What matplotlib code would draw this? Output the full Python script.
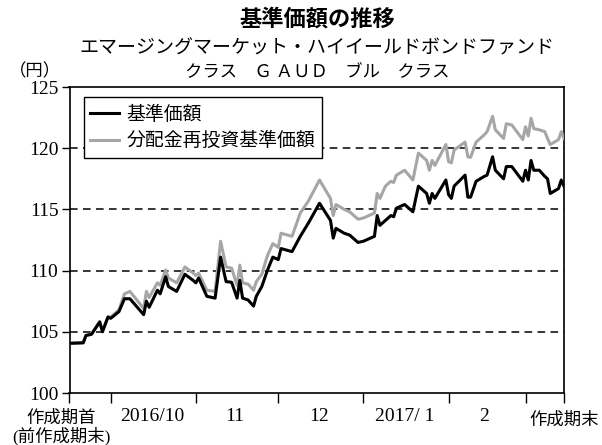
import numpy as np
import matplotlib
matplotlib.use('Agg')
import matplotlib.pyplot as plt
import matplotlib.transforms as mtransforms
import pandas as pd

plt.rcParams['font.family'] = ['Noto Sans CJK JP', 'DejaVu Sans']

# period start / end of the report
period_start = '2016-09-16'
period_end = '2017-03-15'

dates = [
    '2016-09-16', '2016-09-21', '2016-09-22', '2016-09-24', '2016-09-27', '2016-09-28',
    '2016-09-30', '2016-10-01', '2016-10-04', '2016-10-06', '2016-10-08', '2016-10-13',
    '2016-10-14', '2016-10-15', '2016-10-18', '2016-10-19', '2016-10-21', '2016-10-22',
    '2016-10-25', '2016-10-28', '2016-10-31', '2016-11-01', '2016-11-02', '2016-11-05',
    '2016-11-08', '2016-11-10', '2016-11-12', '2016-11-14', '2016-11-16', '2016-11-17',
    '2016-11-18', '2016-11-20', '2016-11-22', '2016-11-23', '2016-11-25', '2016-11-27',
    '2016-11-29', '2016-12-01', '2016-12-02', '2016-12-06', '2016-12-09', '2016-12-12',
    '2016-12-16', '2016-12-20', '2016-12-21', '2016-12-22', '2016-12-25', '2016-12-27',
    '2016-12-30', '2017-01-01', '2017-01-05', '2017-01-06', '2017-01-07', '2017-01-09',
    '2017-01-11', '2017-01-12', '2017-01-13', '2017-01-16', '2017-01-19', '2017-01-21',
    '2017-01-24', '2017-01-25', '2017-01-26', '2017-01-27', '2017-01-31', '2017-02-01',
    '2017-02-02', '2017-02-03', '2017-02-07', '2017-02-08', '2017-02-09', '2017-02-11',
    '2017-02-14', '2017-02-15', '2017-02-17', '2017-02-18', '2017-02-21', '2017-02-22',
    '2017-02-24', '2017-02-28', '2017-03-01', '2017-03-02', '2017-03-03', '2017-03-04',
    '2017-03-06', '2017-03-08', '2017-03-09', '2017-03-10', '2017-03-13', '2017-03-14',
    '2017-03-15',
]

nav = [
    104.06, 104.1, 104.7, 104.8, 105.8, 105.0,
    106.2, 106.1, 106.65, 107.7, 107.7, 106.4,
    107.5, 107.0, 108.4, 108.1, 109.5, 108.7,
    108.3, 109.7, 109.2, 109.0, 109.4, 107.9,
    107.75, 111.1, 109.1, 109.05, 107.75, 109.2,
    107.75, 107.6, 107.1, 107.9, 108.7, 110.0,
    111.1, 110.9, 111.8, 111.55, 112.8, 113.9,
    115.5, 114.1, 112.65, 113.45, 113.05, 112.9,
    112.3, 112.4, 112.8, 114.5, 113.7, 114.1,
    114.5, 114.4, 115.1, 115.4, 114.8, 116.9,
    116.3, 115.5, 116.3, 115.9, 117.4, 116.2,
    115.9, 116.9, 117.8, 116.0, 116.0, 117.3,
    117.7, 117.8, 119.3, 118.2, 117.5, 118.5,
    118.5, 117.3, 118.2, 117.4, 119.0, 118.2,
    118.2, 117.7, 117.5, 116.3, 116.7, 117.4,
    116.9,
]

nav_reinvested = [
    104.06, 104.1, 104.7, 104.8, 105.85, 105.05,
    106.25, 106.2, 106.8, 108.1, 108.3, 106.9,
    108.3, 107.8, 109.0, 108.8, 110.05, 109.4,
    109.0, 110.3, 109.8, 109.6, 109.8, 108.4,
    108.3, 112.4, 110.3, 110.2, 108.8, 110.45,
    109.0, 108.9, 108.4, 109.1, 109.7, 111.2,
    112.2, 111.9, 113.05, 112.8, 114.7, 115.7,
    117.4, 115.9, 114.5, 115.4, 115.0, 114.8,
    114.2, 114.3, 114.7, 116.3, 115.9, 116.9,
    117.3, 117.2, 117.8, 118.2, 117.4, 119.6,
    119.0, 118.2, 119.0, 118.6, 120.3, 118.9,
    118.8, 119.85, 120.5, 119.3, 119.25, 120.5,
    121.1, 121.35, 122.6, 121.5, 120.8, 122.0,
    121.9, 120.7, 121.75, 121.0, 122.45, 121.6,
    121.5, 121.35, 120.8, 120.3, 120.7, 121.35,
    120.8,
]

month_ticks = ['2016-10-01', '2016-11-01', '2016-12-01', '2017-01-01', '2017-02-01', '2017-03-01']
month_label_pos = ['2016-10-16', '2016-11-15', '2016-12-16', '2017-01-16', '2017-02-14']
month_labels = ['2016/10', '11', '12', '2017/ 1', '2']

x = pd.to_datetime(dates)

fig = plt.figure(figsize=(6.02, 4.45), dpi=100)
ax = fig.add_axes([69.5/602, 1-393/445, (564-69.5)/602, (393-87)/445])

ax.plot(x, nav_reinvested, color='#a6a6a6', linewidth=2.2, label='分配金再投資基準価額', zorder=3)
ax.plot(x, nav, color='black', linewidth=2.2, label='基準価額', zorder=4)

ax.set_xlim(pd.Timestamp(period_start), pd.Timestamp(period_end))
ax.set_ylim(100, 125)
ax.set_yticks(np.arange(100, 125.01, 5))
for yv in [105, 110, 115, 120]:
    ax.axhline(yv, color='black', linewidth=1.1, linestyle=(0, (5, 3.5)), zorder=1)

tick_font = ['Liberation Serif', 'Noto Sans CJK JP']
major = [pd.Timestamp(period_start)] + list(pd.to_datetime(month_ticks)) + [pd.Timestamp(period_end)]
ax.set_xticks(major)
ax.set_xticklabels([''] * len(major))
ax.set_xticks(pd.to_datetime(month_label_pos), minor=True)
ax.set_xticklabels(month_labels, minor=True, family=tick_font, fontsize=14)
ax.tick_params(axis='x', which='major', direction='out', length=7, width=1)
ax.tick_params(axis='x', which='minor', length=0, pad=11)
ax.tick_params(axis='y', direction='out', length=6, width=1, pad=2)
for lab in ax.get_yticklabels():
    lab.set_family(tick_font)
    lab.set_fontsize(14)

trans = mtransforms.blended_transform_factory(ax.transData, ax.transAxes)
ax.text(pd.Timestamp('2016-09-13'), -0.058, '作成期首\n(前作成期末)', transform=trans,
        ha='center', va='top', fontsize=12.5, linespacing=1.0, family=tick_font)
ax.text(pd.Timestamp(period_end), -0.058, '作成期末', transform=trans,
        ha='center', va='top', fontsize=12.5)

for sp in ax.spines.values():
    sp.set_linewidth(1.2)

handles, labels = ax.get_legend_handles_labels()
leg = ax.legend(handles[::-1], labels[::-1], loc='upper left', bbox_to_anchor=(0.029, 0.967),
                borderaxespad=0, frameon=True, fancybox=False, framealpha=1,
                edgecolor='black', fontsize=13.6, handlelength=1.5, handletextpad=0.4,
                labelspacing=0.3, borderpad=0.35)
leg.get_frame().set_linewidth(1.0)

fig.text(0.527, 0.957, '基準価額の推移', ha='center', va='center', fontsize=16, fontweight='bold')
fig.text(0.527, 0.892, 'エマージングマーケット・ハイイールドボンドファンド', ha='center', va='center', fontsize=13.7)
fig.text(0.527, 0.838, 'クラス　Ｇ ＡＵＤ　ブル　クラス', ha='center', va='center', fontsize=12.5)
fig.text(0.058, 0.84, '（円）', ha='center', va='center', fontsize=12.5)

fig.savefig('out.png', dpi=100)
